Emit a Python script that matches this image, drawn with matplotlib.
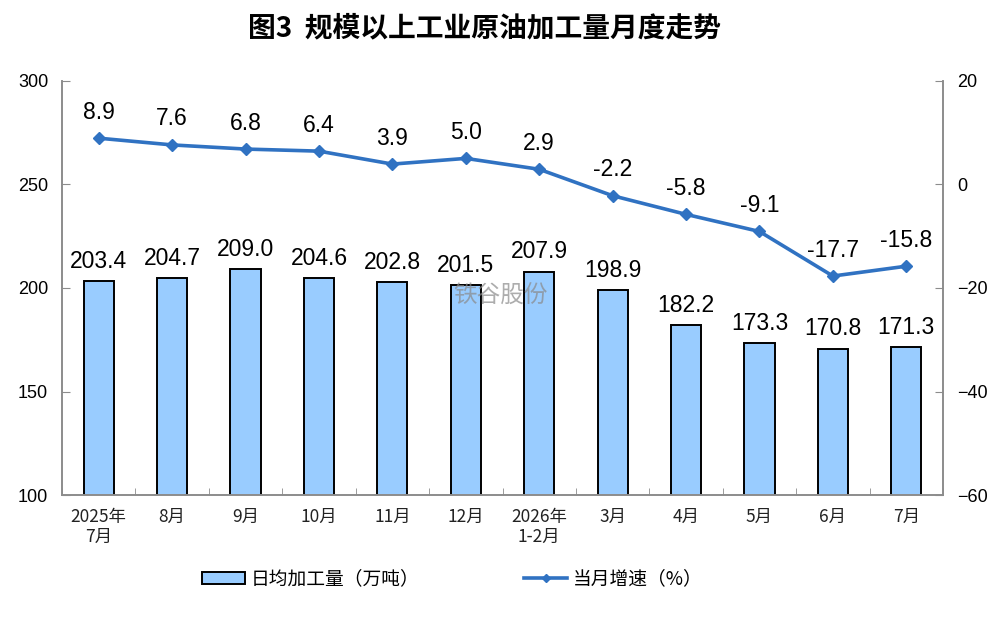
import numpy as np
import matplotlib.pyplot as plt
from matplotlib.lines import Line2D
from matplotlib.patches import Patch

plt.rcParams['font.family'] = ['Liberation Sans', 'Noto Sans CJK SC', 'DejaVu Sans']

# datos
meses = ['2025年\n7月', '8月', '9月', '10月', '11月', '12月', '2026年\n1-2月',
         '3月', '4月', '5月', '6月', '7月']
volumen = [203.4, 204.7, 209.0, 204.6, 202.8, 201.5, 207.9, 198.9, 182.2, 173.3, 170.8, 171.3]
crecimiento = [8.9, 7.6, 6.8, 6.4, 3.9, 5.0, 2.9, -2.2, -5.8, -9.1, -17.7, -15.8]

cjk = ['Noto Sans CJK SC', 'DejaVu Sans']
color_barra = '#99CCFF'
color_linea = '#3072C2'
gris = '#8C8C8C'

fig = plt.figure(figsize=(10, 6.35), dpi=100)
ax1 = fig.add_axes([0.062, 0.22, 0.881, 0.653])
ax2 = ax1.twinx()

x = np.arange(len(meses))
ax1.bar(x, volumen, width=0.41, color=color_barra, edgecolor='black', linewidth=1.4, zorder=2)
for xi, v in zip(x, volumen):
    ax1.text(xi, v + 4, f'{v:.1f}', ha='center', va='bottom', fontsize=16.5, zorder=4)

ax2.plot(x, crecimiento, color=color_linea, linewidth=2.6, marker='D', markersize=6.5, zorder=3)
for xi, v in zip(x, crecimiento):
    ax2.text(xi, v + 2.8, f'{v:.1f}', ha='center', va='bottom', fontsize=16.5, zorder=4)

ax1.set_xlim(-0.5, len(meses) - 0.5)
ax1.set_ylim(100, 300)
ax1.set_yticks([100, 150, 200, 250, 300])
ax2.set_ylim(-60, 20)
ax2.set_yticks([-60, -40, -20, 0, 20])

ax1.set_xticks(x)
ax1.set_xticklabels(meses, family=cjk, fontsize=12.5, linespacing=1.15, color='#222222')
ax1.set_xticks(np.arange(-0.5, len(meses), 1), minor=True)
ax1.tick_params(axis='x', which='major', length=0, pad=9)
ax1.tick_params(axis='x', which='minor', length=5, direction='in', color=gris)
ax1.tick_params(axis='y', direction='in', length=6, color=gris, labelsize=13, pad=10)
ax2.tick_params(axis='y', direction='in', length=6, color=gris, labelsize=13, pad=10)

for ax in (ax1, ax2):
    ax.spines['top'].set_visible(False)
    for s in ('left', 'right', 'bottom'):
        ax.spines[s].set_color(gris)
        ax.spines[s].set_linewidth(1.2)

fig.text(0.485, 0.955, '图3  规模以上工业原油加工量月度走势', ha='center', va='center',
         family=cjk, fontsize=20, fontweight='bold')

# marca de agua
fig.text(0.5, 0.535, '铁谷股份', ha='center', va='center', family=cjk,
         fontsize=17, color='#8A8A8A', alpha=0.7, zorder=10)

handles = [Patch(facecolor=color_barra, edgecolor='black', linewidth=1.4),
           Line2D([0], [0], color=color_linea, linewidth=2.6, marker='D', markersize=4)]
fig.legend(handles, ['日均加工量（万吨）', '当月增速（%）'], loc='center',
           bbox_to_anchor=(0.452, 0.088), ncol=2, frameon=False,
           prop={'family': cjk, 'size': 13.5}, handlelength=2.3, handleheight=0.6,
           handletextpad=0.3, columnspacing=5.6)

fig.savefig('out.png', dpi=100)
